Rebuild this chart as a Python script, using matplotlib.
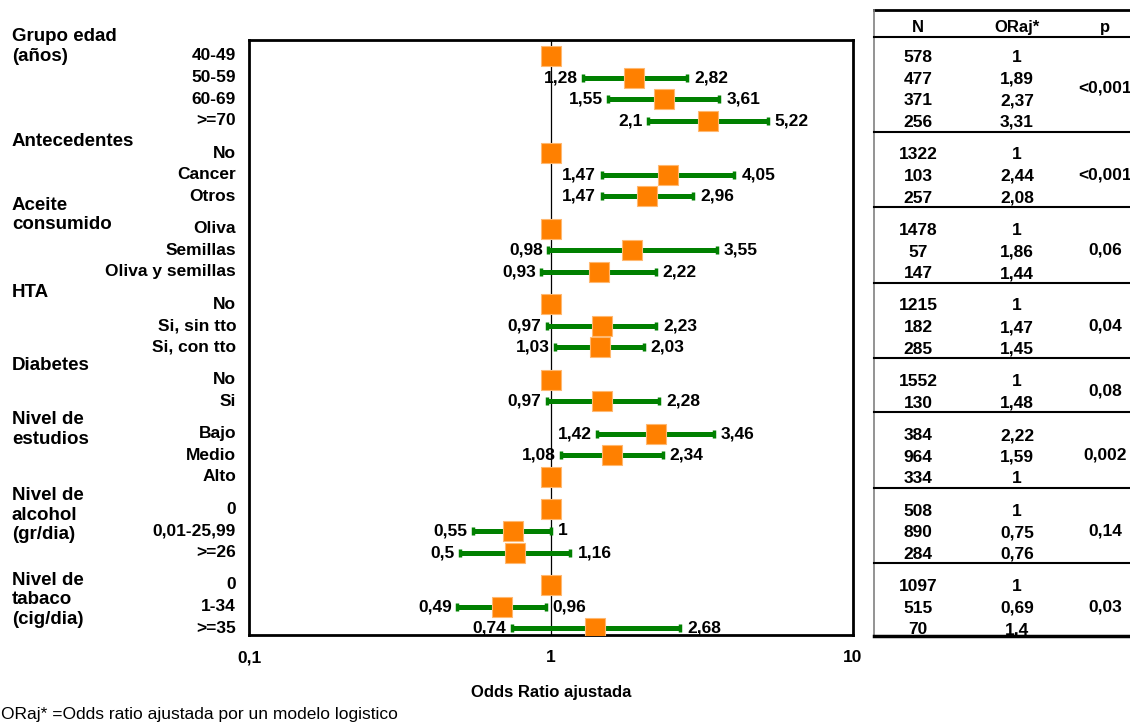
import matplotlib.pyplot as plt
from matplotlib.lines import Line2D
from matplotlib.transforms import blended_transform_factory

plt.rcParams['font.family'] = ['Liberation Sans', 'DejaVu Sans']
tabla_fuente = ['Liberation Sans Narrow', 'Liberation Sans', 'DejaVu Sans']

# grupos de variables y filas de cada grupo
grupos = ['Grupo edad\n(años)', 'Antecedentes', 'Aceite\nconsumido', 'HTA',
          'Diabetes', 'Nivel de\nestudios', 'Nivel de\nalcohol\n(gr/dia)',
          'Nivel de\ntabaco\n(cig/dia)']
n_por_grupo = [4, 3, 3, 3, 2, 3, 3, 3]
p_valores = ['<0,001', '<0,001', '0,06', '0,04', '0,08', '0,002', '0,14', '0,03']

categorias = ['40-49', '50-59', '60-69', '>=70',
              'No', 'Cancer', 'Otros',
              'Oliva', 'Semillas', 'Oliva y semillas',
              'No', 'Si, sin tto', 'Si, con tto',
              'No', 'Si',
              'Bajo', 'Medio', 'Alto',
              '0', '0,01-25,99', '>=26',
              '0', '1-34', '>=35']
n_casos = [578, 477, 371, 256, 1322, 103, 257, 1478, 57, 147, 1215, 182, 285,
           1552, 130, 384, 964, 334, 508, 890, 284, 1097, 515, 70]
or_aj = [1, 1.89, 2.37, 3.31, 1, 2.44, 2.08, 1, 1.86, 1.44, 1, 1.47, 1.45,
         1, 1.48, 2.22, 1.59, 1, 1, 0.75, 0.76, 1, 0.69, 1.4]
ic_inf = [1, 1.28, 1.55, 2.1, 1, 1.47, 1.47, 1, 0.98, 0.93, 1, 0.97, 1.03,
          1, 0.97, 1.42, 1.08, 1, 1, 0.55, 0.5, 1, 0.49, 0.74]
ic_sup = [1, 2.82, 3.61, 5.22, 1, 4.05, 2.96, 1, 3.55, 2.22, 1, 2.23, 2.03,
          1, 2.28, 3.46, 2.34, 1, 1, 1, 1.16, 1, 0.96, 2.68]

# desplazamiento vertical de la etiqueta de cada grupo (en filas)
desp_grupo = [-0.44, -0.56, -0.63, -0.56, -0.65, -0.19, 0.28, 0.69]


def fmt(v):
    return ('%g' % v).replace('.', ',')


# posicion vertical de cada fila: 1 entre filas, 1.5 entre grupos
y = []
inicio = []
pos = 0.0
for n in n_por_grupo:
    inicio.append(pos)
    for i in range(n):
        y.append(pos + i)
    pos = pos + n - 1 + 1.5
ultimo = y[-1]

W, H = 1130, 722
fig = plt.figure(figsize=(W / 100, H / 100), dpi=100)
ax = fig.add_axes([249 / W, 87 / H, 604 / W, 595 / H])
ax.set_xscale('log')

ax.axvline(1, color='black', lw=0.9, zorder=1)

for k in range(len(y)):
    if ic_inf[k] != ic_sup[k]:
        ax.errorbar(or_aj[k], y[k],
                    xerr=[[or_aj[k] - ic_inf[k]], [ic_sup[k] - or_aj[k]]],
                    fmt='none', ecolor='#008000', elinewidth=3.6,
                    capsize=2.8, capthick=2.5, zorder=2)
        ax.annotate(fmt(ic_inf[k]), (ic_inf[k], y[k]), xytext=(-4, 0),
                    textcoords='offset points', ha='right', va='center',
                    fontsize=12.5, fontweight='bold')
        ax.annotate(fmt(ic_sup[k]), (ic_sup[k], y[k]), xytext=(5, 0),
                    textcoords='offset points', ha='left', va='center',
                    fontsize=12.5, fontweight='bold')
    ax.plot(or_aj[k], y[k], marker='s', markersize=14,
            markerfacecolor='#FF8000', markeredgecolor='#FFB870',
            markeredgewidth=0.8, zorder=3)

ax.set_xlim(0.1, 10)
ax.set_ylim(ultimo + 0.32, -0.74)
ax.set_yticks([])
ax.set_xticks([0.1, 1, 10])
ax.set_xticklabels(['0,1', '1', '10'], fontsize=12.5, fontweight='bold')
ax.minorticks_off()
ax.tick_params(axis='x', length=0, pad=11)
for s in ax.spines.values():
    s.set_linewidth(2)

fig.text(551 / W, 1 - 692 / H, 'Odds Ratio ajustada', ha='center', va='center',
         fontsize=12, fontweight='bold')
fig.text(0.001, 1 - 715 / H, 'ORaj* =Odds ratio ajustada por un modelo logistico',
         ha='left', va='center', fontsize=12.5)

trans = blended_transform_factory(fig.transFigure, ax.transData)

# etiquetas de grupo y de categoria
for g, nombre in enumerate(grupos):
    fig.text(12 / W, inicio[g] + desp_grupo[g], nombre, transform=trans,
             ha='left', va='center', fontsize=13.5, fontweight='bold',
             linespacing=1.2)
for k, cat in enumerate(categorias):
    fig.text(236 / W, y[k], cat, transform=trans, ha='right', va='center',
             fontsize=12.5, fontweight='bold')

# tabla de la derecha
x_izq, x_n, x_or, x_p = 874 / W, 918 / W, 1017 / W, 1105 / W
y_top = -2.13
fig.add_artist(Line2D([x_izq, 1], [y_top, y_top], transform=trans,
                      color='black', lw=2))
fig.add_artist(Line2D([x_izq, x_izq], [y_top, ultimo + 0.37], transform=trans,
                      color='#808080', lw=1.2))
fig.add_artist(Line2D([x_izq, 1], [-0.88, -0.88], transform=trans,
                      color='black', lw=1.5))
fig.add_artist(Line2D([x_izq, 1], [ultimo + 0.37, ultimo + 0.37],
                      transform=trans, color='black', lw=2.5))
for g in range(len(grupos) - 1):
    ys = inicio[g] + n_por_grupo[g] - 1 + 0.5
    fig.add_artist(Line2D([x_izq, 1], [ys, ys], transform=trans,
                          color='black', lw=1.5))

for xc, txt in zip([x_n, x_or, x_p], ['N', 'ORaj*', 'p']):
    fig.text(xc, -1.3, txt, transform=trans, ha='center', va='center',
             fontsize=12, fontweight='bold', family=tabla_fuente)
for k in range(len(y)):
    fig.text(x_n, y[k] + 0.08, str(n_casos[k]), transform=trans,
             ha='center', va='center', fontsize=12.5, fontweight='bold',
             family=tabla_fuente)
    fig.text(x_or, y[k] + 0.08, fmt(or_aj[k]), transform=trans,
             ha='center', va='center', fontsize=12.5, fontweight='bold',
             family=tabla_fuente)
for g in range(len(grupos)):
    yc = inicio[g] + (n_por_grupo[g] - 1) / 2
    fig.text(x_p, yc, p_valores[g], transform=trans, ha='center',
             va='center', fontsize=12.5, fontweight='bold',
             family=tabla_fuente)

fig.savefig('out.png', dpi=100)
